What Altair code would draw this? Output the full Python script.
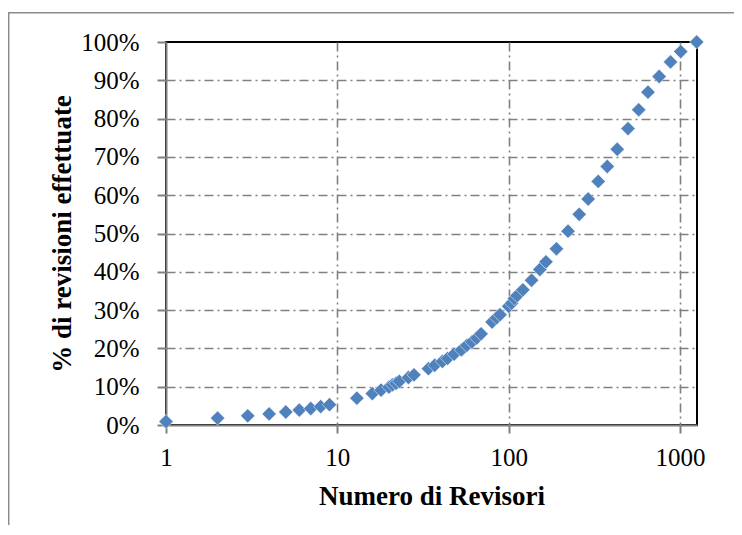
import altair as alt
import pandas as pd

revisori = [1, 2, 3, 4, 5, 6, 7, 8, 9,
            13, 16, 18, 20, 21, 22, 23, 26, 28,
            34, 37, 41, 44, 48, 53, 57, 61, 65, 69,
            80, 85, 89, 100, 104, 108, 112, 121,
            136, 152, 165, 190, 222, 258, 291, 333, 376, 430,
            497, 574, 650, 755, 880, 1010, 1250]
percentuale = [0.9, 1.8, 2.4, 2.9, 3.4, 3.9, 4.3, 4.8, 5.3,
               7.0, 8.2, 9.1, 9.9, 10.5, 10.9, 11.4, 12.4, 13.1,
               14.7, 15.6, 16.6, 17.4, 18.5, 19.6, 20.8, 21.7, 22.7, 23.8,
               26.9, 28.0, 28.8, 31.0, 31.8, 33.0, 33.8, 35.3,
               37.8, 40.6, 42.6, 46.0, 50.6, 55.0, 59.0, 63.6, 67.5, 72.0,
               77.4, 82.3, 86.9, 91.0, 94.8, 97.5, 100.0]
x_ticks = [1, 10, 100, 1000]
y_ticks = [0, 10, 20, 30, 40, 50, 60, 70, 80, 90, 100]

df = pd.DataFrame({"revisori": revisori, "percentuale": percentuale})

FONT = "Liberation Serif"
GRAY = "#808080"
DASH = [9, 4, 2, 4]

points = alt.Chart(df).mark_point(
    shape="diamond", filled=True, size=205, fill="#4F81BD",
    stroke="white", strokeWidth=0.5, opacity=1
).encode(
    x=alt.X("revisori:Q",
            scale=alt.Scale(type="log", domain=[1, 1256], nice=False),
            axis=alt.Axis(values=x_ticks, format="d", title="Numero di Revisori",
                          grid=True, gridDash=DASH, gridColor=GRAY, gridWidth=1.6,
                          gridOpacity={"condition": {"test": "datum.value <= 1", "value": 0}, "value": 1},
                          domainColor=GRAY, domainWidth=2,
                          tickColor=GRAY, tickWidth=2, tickSize=8,
                          labelFont=FONT, labelFontSize=25, labelColor="black",
                          labelBaseline="alphabetic", labelPadding=32,
                          labelFlush=False, labelOverlap=False,
                          titleFont=FONT, titleFontSize=27, titleFontWeight="bold",
                          titleColor="black", titleBaseline="alphabetic", titleY=79)),
    y=alt.Y("percentuale:Q",
            scale=alt.Scale(domain=[0, 100], nice=False),
            axis=alt.Axis(values=y_ticks, labelExpr="datum.value + '%'",
                          title="% di revisioni effettuate",
                          grid=True, gridDash=DASH, gridColor=GRAY, gridWidth=1.6,
                          gridOpacity={"condition": {"test": "datum.value <= 0 || datum.value >= 100", "value": 0}, "value": 1},
                          domainColor=GRAY, domainWidth=2,
                          tickColor=GRAY, tickWidth=2, tickSize=9,
                          labelFont=FONT, labelFontSize=25, labelColor="black",
                          labelPadding=18, labelFlush=False, labelOverlap=False,
                          titleFont=FONT, titleFontSize=27, titleFontWeight="bold",
                          titleColor="black", titleAngle=270, titleAlign="center",
                          titleBaseline="middle", titleX=-104, titleY=191.5)),
)

frame = alt.Chart(alt.Data(values=[{"k": 1}])).mark_rect(
    filled=False, stroke="#8c8c8c", strokeWidth=1.5
).encode(
    x=alt.value(-157.3), x2=alt.value(700),
    y=alt.value(-29.3), y2=alt.value(700),
)

chart = alt.layer(frame, points).properties(
    width=531, height=383,
    autosize=alt.AutoSizeParams(type="none"),
    padding={"left": 158, "top": 34, "right": 37, "bottom": 100},
    background="white",
).configure_view(stroke="black", strokeWidth=2)

chart.save("out.html", embed_options={"renderer": "svg", "actions": False})
